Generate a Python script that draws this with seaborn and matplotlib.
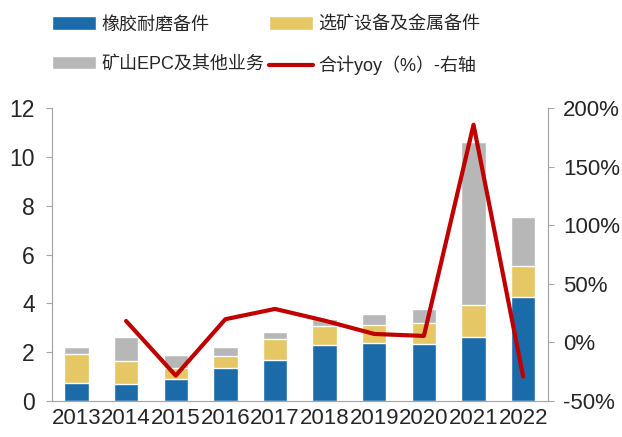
import numpy as np
import pandas as pd
import matplotlib
matplotlib.use("Agg")
import matplotlib.pyplot as plt
import seaborn as sns
from matplotlib.patches import Patch
from matplotlib.lines import Line2D

years = ["2013", "2014", "2015", "2016", "2017", "2018", "2019", "2020", "2021", "2022"]
rubber = [0.71, 0.69, 0.88, 1.35, 1.67, 2.27, 2.35, 2.31, 2.63, 4.26]
mineral = [1.21, 0.94, 0.45, 0.50, 0.87, 0.78, 0.76, 0.89, 1.30, 1.28]
epc = [0.30, 0.97, 0.53, 0.37, 0.29, 0.29, 0.45, 0.56, 6.67, 2.01]
yoy_years = years[1:]
yoy = [18.2, -28.5, 19.7, 28.5, 18.5, 7.1, 5.4, 186.0, -29.4]

labels = ["橡胶耐磨备件", "选矿设备及金属备件", "矿山EPC及其他业务", "合计yoy（%）-右轴"]
c_blue, c_yellow, c_gray, c_red = "#1B6BA8", "#E5C766", "#B7B7B7", "#C00000"

sns.set_style("white")
plt.rcParams["font.family"] = ["Liberation Sans", "Noto Sans CJK SC"]

df = pd.DataFrame({"year": years, "rubber": rubber, "mineral": mineral, "epc": epc})
df["s2"] = df["rubber"] + df["mineral"]
df["s3"] = df["s2"] + df["epc"]

fig = plt.figure(figsize=(6.22, 4.37), dpi=100)
ax = fig.add_axes([0.083, 0.083, 0.798, 0.669])

sns.barplot(data=df, x="year", y="s3", color=c_gray, width=0.49, saturation=1, ax=ax)
sns.barplot(data=df, x="year", y="s2", color=c_yellow, width=0.49, saturation=1, ax=ax)
sns.barplot(data=df, x="year", y="rubber", color=c_blue, width=0.49, saturation=1, ax=ax)

ax.set_ylim(0, 12)
ax.set_yticks(range(0, 13, 2))
ax.set_xlim(-0.5, len(years) - 0.5)
ax.set_xlabel("")
ax.set_ylabel("")

ax2 = ax.twinx()
pos = [years.index(y) for y in yoy_years]
sns.lineplot(x=pos, y=yoy, color=c_red, linewidth=3, ax=ax2)
ax2.set_ylim(-50, 200)
ax2.set_yticks(range(-50, 201, 50))
ax2.set_yticklabels([f"{v}%" for v in range(-50, 201, 50)])
ax2.set_xlim(-0.5, len(years) - 0.5)

for a in (ax, ax2):
    for s in a.spines.values():
        s.set_color("#A6A6A6")
    a.spines["top"].set_visible(False)
    a.tick_params(axis="x", labelsize=16, length=0, pad=5)
ax.tick_params(axis="y", direction="out", length=4, color="#A6A6A6", left=True,
               labelsize=16.5, pad=8)
ax2.tick_params(axis="y", direction="out", length=4, color="#A6A6A6", right=True,
                labelsize=16, pad=7)

# column-major order so rows read: blue, yellow / gray, red
handles = [
    Patch(facecolor=c_blue, label=labels[0]),
    Patch(facecolor=c_gray, label=labels[2]),
    Patch(facecolor=c_yellow, label=labels[1]),
    Line2D([0], [0], color=c_red, linewidth=3, label=labels[3]),
]
fig.legend(handles=handles, loc="upper left", bbox_to_anchor=(0.058, 1.0), ncol=2,
           frameon=False, fontsize=13, handlelength=2.4, handleheight=0.75,
           columnspacing=0.3, handletextpad=0.3, labelspacing=1.25)

fig.savefig("out.png", dpi=100)
